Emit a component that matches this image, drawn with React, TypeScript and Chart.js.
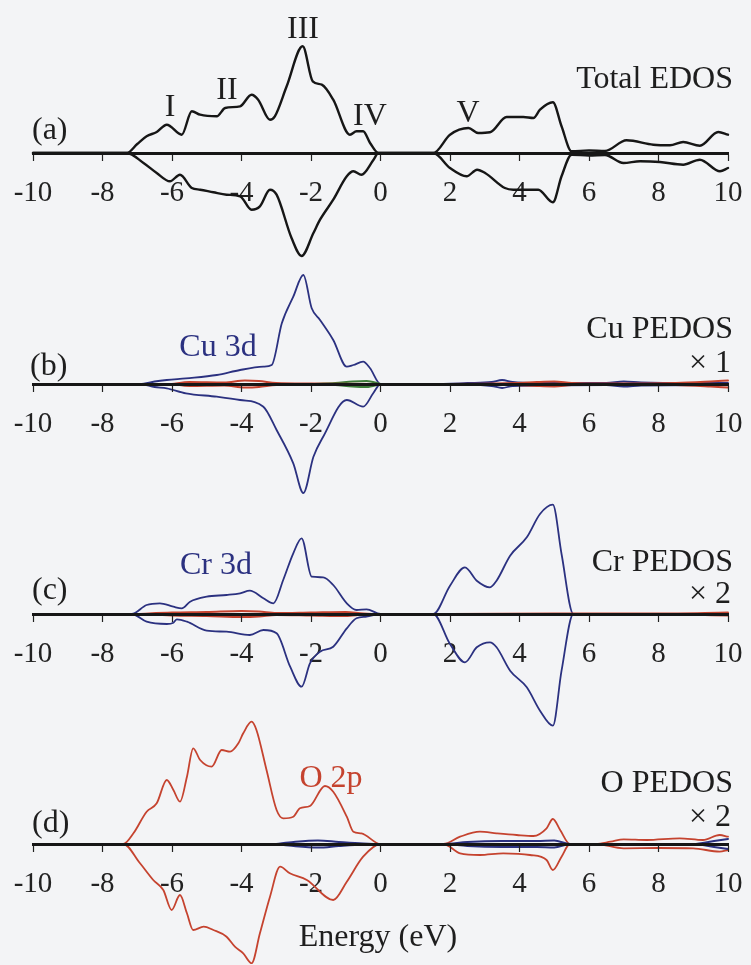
import React, { useEffect, useRef } from "react";
import { Chart, registerables } from "chart.js";

Chart.register(...registerables);

type Pt = [number, number];

// Energy axis (eV)
const energyTicks = [-10, -8, -6, -4, -2, 0, 2, 4, 6, 8, 10];

// (a) Total EDOS: spin up positive, spin down negative
const totalUp: Pt[] = [
  [-10, 0], [-7.3, 0], [-7.0, 0.9], [-6.73, 1.67], [-6.44, 2.1], [-6.15, 2.83], [-5.72, 1.83],
  [-5.43, 4.17], [-5.19, 3.83], [-4.71, 3.67], [-4.47, 4.5], [-4.04, 4.67], [-3.71, 5.83],
  [-3.52, 5.33], [-3.18, 3.33], [-3.04, 3.67], [-2.7, 6.67], [-2.24, 10.67], [-1.95, 7.17],
  [-1.69, 6.83], [-1.36, 5.33], [-0.88, 1.83], [-0.69, 2.17], [-0.5, 2.17], [-0.3, 1.0],
  [-0.06, 0], [1.52, 0], [2.0, 1.83], [2.53, 2.5], [2.81, 2.0], [3.15, 2.07], [3.63, 3.6],
  [4.11, 3.6], [4.4, 3.5], [4.59, 4.33], [4.96, 5.07], [5.21, 2.67], [5.5, 0.17], [6.0, 0.25],
  [6.46, 0.2], [7.08, 1.27], [7.85, 0.83], [8.33, 0.77], [8.71, 1.1], [9.19, 0.73], [9.72, 2.1],
  [10, 1.83],
];
const totalDown: Pt[] = [
  [-10, 0], [-7.3, 0], [-6.82, -1.0], [-6.44, -2.0], [-6.06, -2.83], [-5.77, -2.17], [-5.43, -3.5],
  [-5.19, -3.67], [-4.81, -3.93], [-4.43, -4.17], [-4.04, -4.33], [-3.71, -5.67], [-3.47, -5.33],
  [-3.18, -3.67], [-2.99, -4.17], [-2.56, -8.5], [-2.27, -10.3], [-1.93, -8.0], [-1.74, -6.67],
  [-1.36, -4.67], [-0.97, -2.33], [-0.78, -1.83], [-0.55, -2.17], [-0.2, -0.67], [-0.06, 0],
  [1.52, 0], [2.0, -1.5], [2.48, -2.33], [2.78, -1.67], [3.01, -2.0], [3.58, -3.5], [3.82, -3.67],
  [4.3, -3.67], [4.54, -3.67], [4.96, -4.93], [5.21, -2.33], [5.5, -0.17], [6.0, -0.25],
  [6.46, -0.2], [6.99, -1.0], [7.47, -0.83], [8.04, -0.9], [8.71, -1.17], [9.19, -0.67],
  [9.77, -1.83], [10, -1.5],
];

// (b) Cu PEDOS x1
const cu3dUp: Pt[] = [
  [-10, 0], [-6.92, 0], [-6.5, 0.25], [-6.15, 0.4], [-5.6, 0.57], [-4.71, 0.9], [-4.04, 1.4],
  [-3.37, 1.73], [-3.13, 1.9], [-2.84, 6.07], [-2.51, 8.73], [-2.22, 10.9], [-1.98, 7.57],
  [-1.74, 6.4], [-1.36, 4.4], [-0.97, 1.73], [-0.78, 1.9], [-0.5, 2.23], [-0.3, 1.57], [0, 0],
  [1.5, 0], [2.5, 0.1], [3.2, 0.2], [3.5, 0.4], [3.8, 0.2], [4.5, 0.1], [6.5, 0.1], [7.0, 0.25],
  [7.5, 0.15], [9, 0.1], [10, 0.1],
];
const cu3dDown: Pt[] = [
  [-10, 0], [-6.92, 0], [-6.5, -0.3], [-6.15, -0.43], [-5.6, -0.93], [-4.71, -1.27], [-4.04, -1.6],
  [-3.37, -2.27], [-2.99, -4.6], [-2.51, -7.93], [-2.22, -10.9], [-1.93, -7.27], [-1.65, -5.27],
  [-0.97, -1.6], [-0.5, -2.27], [-0.21, -0.93], [0, 0], [1.5, 0], [3.2, -0.2], [3.5, -0.4],
  [3.8, -0.2], [6.5, -0.1], [7.0, -0.25], [7.5, -0.15], [10, -0.1],
];
const cu4sUp: Pt[] = [
  [-6, 0], [-5.5, 0.2], [-4.5, 0.15], [-3.9, 0.35], [-3.5, 0.3], [-3, 0.1], [-2, 0.05], [0, 0],
  [2, 0], [3.9, 0.1], [4.5, 0.2], [5.0, 0.25], [5.5, 0.1], [6.5, 0.05], [8.5, 0.1], [9.5, 0.25],
  [10, 0.35],
];
const cu4sDown: Pt[] = [
  [-6, 0], [-5.5, -0.2], [-4.5, -0.15], [-3.9, -0.35], [-3.5, -0.3], [-3, -0.1], [-2, -0.05], [0, 0],
  [2, 0], [3.9, -0.1], [4.5, -0.2], [5.0, -0.25], [5.5, -0.1], [6.5, -0.05], [8.5, -0.1],
  [9.5, -0.25], [10, -0.35],
];
const cu4pUp: Pt[] = [[-2, 0], [-1.3, 0.1], [-0.8, 0.25], [-0.4, 0.3], [0, 0]];
const cu4pDown: Pt[] = [[-2, 0], [-1.3, -0.1], [-0.8, -0.25], [-0.4, -0.3], [0, 0]];

// (c) Cr PEDOS x2
const cr3dUp: Pt[] = [
  [-10, 0], [-7.16, 0], [-6.73, 0.9], [-6.35, 1.07], [-5.96, 0.73], [-5.72, 0.57], [-5.48, 1.23],
  [-5.0, 1.73], [-4.43, 1.9], [-4.04, 2.07], [-3.76, 2.33], [-3.37, 1.57], [-3.08, 1.07],
  [-2.8, 3.4], [-2.51, 6.07], [-2.27, 7.57], [-1.98, 3.73], [-1.65, 3.67], [-1.36, 2.9],
  [-0.97, 1.07], [-0.69, 0.4], [-0.4, 0.47], [0, 0], [1.52, 0], [2.0, 2.83], [2.43, 4.67],
  [2.77, 3.33], [3.15, 2.67], [3.34, 3.33], [3.73, 5.83], [4.21, 7.67], [4.59, 10], [4.96, 10.93],
  [5.21, 6.0], [5.55, 0], [10, 0],
];
const cr3dDown: Pt[] = [
  [-10, 0], [-7.16, 0], [-6.73, -0.77], [-6.15, -1.0], [-5.96, -0.87], [-5.86, -0.53],
  [-5.57, -0.77], [-5.0, -1.67], [-4.43, -1.77], [-3.76, -2.1], [-3.37, -1.6], [-2.99, -1.93],
  [-2.6, -5.27], [-2.27, -7.27], [-2.03, -4.93], [-1.74, -3.77], [-1.36, -3.27], [-0.97, -1.43],
  [-0.69, -0.43], [-0.4, -0.27], [0, 0], [1.52, 0], [2.0, -3.0], [2.43, -4.83], [2.77, -3.33],
  [3.15, -2.83], [3.34, -3.33], [3.73, -5.67], [4.21, -7.33], [4.59, -9.67], [4.96, -11.17],
  [5.21, -5.67], [5.55, 0], [10, 0],
];
const cr4sUp: Pt[] = [
  [-7, 0], [-6, 0.15], [-5, 0.2], [-4, 0.3], [-3.5, 0.25], [-3, 0.1], [-2, 0.15], [-1, 0.2],
  [-0.5, 0.05], [0, 0], [2, 0], [5, 0.05], [8, 0.05], [10, 0.15],
];
const cr4sDown: Pt[] = [
  [-7, 0], [-6, -0.15], [-5, -0.2], [-4, -0.3], [-3.5, -0.25], [-3, -0.1], [-2, -0.15], [-1, -0.2],
  [-0.5, -0.05], [0, 0], [2, 0], [5, -0.05], [8, -0.05], [10, -0.15],
];

// (d) O PEDOS x2
const o2pUp: Pt[] = [
  [-10, 0], [-7.4, 0], [-7.11, 1.07], [-6.73, 3.23], [-6.44, 4.07], [-6.15, 6.4], [-5.96, 5.4],
  [-5.77, 4.23], [-5.57, 6.73], [-5.39, 9.57], [-5.19, 8.4], [-4.86, 7.73], [-4.57, 9.4],
  [-4.33, 9.23], [-4.09, 10.07], [-3.95, 11.07], [-3.71, 12.23], [-3.57, 11.4], [-3.28, 7.4],
  [-2.99, 3.4], [-2.8, 2.57], [-2.51, 2.73], [-2.32, 3.57], [-2.03, 3.8], [-1.6, 5.8],
  [-1.36, 5.23], [-0.97, 2.73], [-0.78, 1.23], [-0.55, 1.07], [0, 0], [1.81, 0], [2.29, 0.73],
  [2.86, 1.23], [3.34, 1.07], [3.92, 0.9], [4.4, 0.8], [4.78, 1.57], [4.96, 2.5], [5.17, 1.4],
  [5.45, 0], [6.2, 0], [6.62, 0.23], [7.0, 0.47], [7.66, 0.4], [8.61, 0.57], [9.28, 0.4],
  [9.76, 0.9], [10, 0.73],
];
const o2pDown: Pt[] = [
  [-10, 0], [-7.4, 0], [-6.92, -1.93], [-6.54, -3.6], [-6.25, -4.6], [-6.01, -6.6], [-5.77, -5.1],
  [-5.57, -6.93], [-5.39, -8.6], [-5.09, -8.27], [-4.81, -8.6], [-4.43, -9.27], [-4.19, -10.27],
  [-3.95, -10.93], [-3.71, -11.93], [-3.47, -8.93], [-3.18, -5.27], [-2.89, -2.27], [-2.61, -2.93],
  [-2.12, -3.6], [-1.36, -5.6], [-0.97, -3.77], [-0.5, -1.27], [0, 0], [1.81, 0], [2.29, -0.93],
  [2.86, -1.1], [3.53, -0.93], [4.3, -1.1], [4.78, -1.6], [4.96, -2.6], [5.21, -1.27], [5.45, 0],
  [6.2, 0], [7.0, -0.43], [8.0, -0.4], [9.0, -0.43], [9.76, -0.77], [10, -0.6],
];
const o2sUp: Pt[] = [
  [-3, 0], [-2.5, 0.2], [-1.8, 0.35], [-1.2, 0.2], [-0.5, 0.05], [0, 0], [1.8, 0], [2.5, 0.2],
  [3.5, 0.3], [4.5, 0.3], [5, 0.35], [5.45, 0], [9, 0], [9.6, 0.3], [10, 0.5],
];
const o2sDown: Pt[] = [
  [-3, 0], [-2.5, -0.2], [-1.8, -0.35], [-1.2, -0.2], [-0.5, -0.05], [0, 0], [1.8, 0], [2.5, -0.2],
  [3.5, -0.3], [4.5, -0.3], [5, -0.35], [5.45, 0], [9, 0], [9.6, -0.3], [10, -0.5],
];

const INK = "#161616";
const BLUE = "#2b3180";
const RED = "#c5432f";
const GREEN = "#3d7d3a";
const PAPER = "#f3f4f6";
const SERIF = "'Liberation Serif', 'DejaVu Serif', serif";

const Y_MAX = 13;
const Y_MIN = -12;
const PX_PER_UNIT = 10;

type Line = { data: Pt[]; color: string; width: number };

const line = (data: Pt[], color: string, width: number): Line => ({ data, color, width });

const panels: { axisY: number; lines: Line[] }[] = [
  { axisY: 153, lines: [line(totalUp, INK, 2.4), line(totalDown, INK, 2.4)] },
  {
    axisY: 384,
    lines: [
      line(cu4sUp, RED, 2), line(cu4sDown, RED, 2),
      line(cu4pUp, GREEN, 2), line(cu4pDown, GREEN, 2),
      line(cu3dUp, BLUE, 1.8), line(cu3dDown, BLUE, 1.8),
    ],
  },
  {
    axisY: 614,
    lines: [line(cr4sUp, RED, 2), line(cr4sDown, RED, 2), line(cr3dUp, BLUE, 1.8), line(cr3dDown, BLUE, 1.8)],
  },
  {
    axisY: 844,
    lines: [line(o2sUp, BLUE, 2), line(o2sDown, BLUE, 2), line(o2pUp, RED, 1.8), line(o2pDown, RED, 1.8)],
  },
];

type Note = { text: string; x: number; y: number; color?: string; align?: "left" | "center" | "right" };

const notes: Note[] = [
  { text: "(a)", x: 32, y: 128, align: "left" },
  { text: "I", x: 170, y: 105 },
  { text: "II", x: 227, y: 88 },
  { text: "III", x: 303, y: 27 },
  { text: "IV", x: 370, y: 114 },
  { text: "V", x: 468, y: 111 },
  { text: "Total EDOS", x: 733, y: 77, align: "right" },
  { text: "(b)", x: 30, y: 364, align: "left" },
  { text: "Cu 3d", x: 218, y: 345, color: BLUE },
  { text: "Cu PEDOS", x: 733, y: 327, align: "right" },
  { text: "\u00d7 1", x: 731, y: 361, align: "right" },
  { text: "(c)", x: 32, y: 588, align: "left" },
  { text: "Cr 3d", x: 216, y: 563, color: BLUE },
  { text: "Cr PEDOS", x: 733, y: 560, align: "right" },
  { text: "\u00d7 2", x: 731, y: 592, align: "right" },
  { text: "(d)", x: 32, y: 821, align: "left" },
  { text: "O 2p", x: 331, y: 776, color: RED },
  { text: "O PEDOS", x: 733, y: 781, align: "right" },
  { text: "\u00d7 2", x: 731, y: 815, align: "right" },
  { text: "Energy (eV)", x: 378, y: 935 },
];

function DosPanel({ axisY, lines }: { axisY: number; lines: Line[] }) {
  const ref = useRef<HTMLCanvasElement>(null);
  const height = (Y_MAX - Y_MIN) * PX_PER_UNIT;
  const top = axisY - Y_MAX * PX_PER_UNIT;

  useEffect(() => {
    const chart = new Chart(ref.current!, {
      type: "line",
      data: {
        datasets: lines.map((l) => ({
          data: l.data.map(([x, y]) => ({ x, y })),
          borderColor: l.color,
          borderWidth: l.width,
          pointRadius: 0,
          cubicInterpolationMode: "monotone" as const,
          fill: false,
          clip: false as any,
        })),
      },
      options: {
        responsive: false,
        animation: false,
        devicePixelRatio: 1,
        layout: { padding: { left: 33, right: 23, top: 0, bottom: 0 } },
        plugins: { legend: { display: false }, tooltip: { enabled: false }, title: { display: false } },
        elements: { line: { borderJoinStyle: "round", borderCapStyle: "round" } },
        scales: {
          x: {
            type: "linear",
            min: -10,
            max: 10,
            position: { y: 0 } as any,
            afterBuildTicks: (s: any) => {
              s.ticks = energyTicks.map((v) => ({ value: v }));
            },
            grid: { z: 1, drawOnChartArea: false, drawTicks: true, tickLength: 6, tickWidth: 1.2, tickColor: "#222" },
            border: { z: 1, display: true, width: 3, color: INK },
            ticks: {
              z: 0,
              font: { family: SERIF, size: 29, lineHeight: 2.1 },
              color: "#222",
              padding: 4,
              maxRotation: 0,
              autoSkip: false,
              callback: (v: any) => String(v),
            },
          },
          y: { type: "linear", min: Y_MIN, max: Y_MAX, display: false },
        },
      },
    });
    return () => chart.destroy();
  }, []);

  return (
    <canvas
      ref={ref}
      width={751}
      height={height}
      style={{ position: "absolute", left: 0, top, width: 751, height }}
    />
  );
}

export default function App() {
  return (
    <div
      style={{
        position: "absolute",
        left: 0,
        top: 0,
        width: 751,
        height: 965,
        overflow: "hidden",
        background: PAPER,
        fontFamily: SERIF,
      }}
    >
      {panels.map((p, i) => (
        <DosPanel key={i} axisY={p.axisY} lines={p.lines} />
      ))}
      {notes.map((n, i) => {
        const align = n.align ?? "center";
        const tx = align === "left" ? "0" : align === "right" ? "-100%" : "-50%";
        return (
          <div
            key={i}
            style={{
              position: "absolute",
              left: n.x,
              top: n.y,
              transform: `translate(${tx}, -50%)`,
              fontSize: 32,
              lineHeight: 1,
              whiteSpace: "nowrap",
              color: n.color ?? "#1e1e1e",
            }}
          >
            {n.text}
          </div>
        );
      })}
    </div>
  );
}
